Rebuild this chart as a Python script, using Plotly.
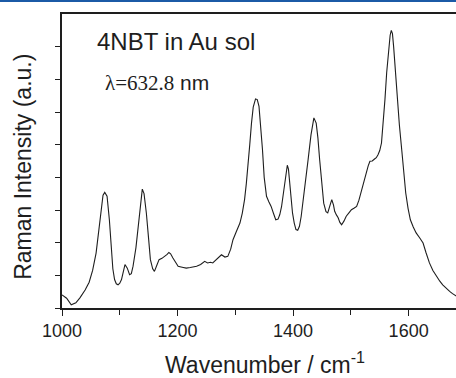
import plotly.graph_objects as go

# Spectrum (wavenumber in cm^-1, intensity in arbitrary units)
wavenumber = [1000, 1002, 1008, 1016, 1024, 1031, 1040, 1047, 1053, 1059, 1064, 1068, 1071, 1074,
              1078, 1082, 1085, 1088, 1091, 1094, 1097, 1100, 1103, 1106, 1109, 1113, 1117, 1120,
              1123, 1128, 1132, 1136, 1139, 1142, 1146, 1150, 1153, 1157, 1160, 1164, 1168, 1173,
              1178, 1182, 1185, 1188, 1192, 1197, 1201, 1208, 1215, 1222, 1228, 1233, 1240, 1247,
              1252, 1257, 1261, 1268, 1276, 1282, 1287, 1292, 1296, 1302, 1308, 1312, 1316, 1319,
              1322, 1325, 1328, 1331, 1335, 1338, 1341, 1344, 1347, 1350, 1354, 1358, 1362, 1366,
              1370, 1374, 1377, 1380, 1383, 1387, 1390, 1392, 1394, 1396, 1399, 1402, 1405, 1408,
              1411, 1414, 1417, 1421, 1426, 1431, 1436, 1440, 1443, 1446, 1449, 1453, 1457, 1460,
              1464, 1467, 1470, 1472, 1475, 1478, 1481, 1484, 1488, 1492, 1497, 1501, 1506, 1510,
              1514, 1518, 1522, 1527, 1530, 1533, 1537, 1541, 1544, 1547, 1550, 1553, 1556, 1559,
              1562, 1565, 1568, 1570, 1572, 1574, 1577, 1580, 1584, 1588, 1592, 1595, 1599, 1603,
              1608, 1613, 1619, 1625, 1630, 1636, 1642, 1648, 1654, 1659, 1665, 1671, 1676, 1683]
intensity = [0.40, 0.38, 0.30, 0.10, 0.16, 0.31, 0.55, 0.79, 1.15, 1.68, 2.40, 3.11, 3.45, 3.54,
             3.42, 2.70, 1.79, 1.20, 0.87, 0.74, 0.71, 0.76, 0.87, 1.12, 1.33, 1.22, 1.02, 1.05,
             1.28, 1.85, 2.50, 3.25, 3.64, 3.50, 2.91, 2.10, 1.48, 1.20, 1.12, 1.30, 1.48, 1.52,
             1.58, 1.64, 1.70, 1.66, 1.53, 1.38, 1.28, 1.25, 1.22, 1.24, 1.26, 1.28, 1.33, 1.43,
             1.38, 1.40, 1.38, 1.50, 1.63, 1.56, 1.58, 1.80, 2.09, 2.35, 2.60, 2.90, 3.32, 3.80,
             4.34, 5.00, 5.66, 6.15, 6.40, 6.38, 6.17, 5.60, 4.85, 4.00, 3.42, 3.25, 3.11, 2.90,
             2.70, 2.72, 2.86, 3.10, 3.52, 4.05, 4.37, 4.25, 3.83, 3.35, 2.91, 2.60, 2.40, 2.38,
             2.50, 2.80, 3.21, 3.85, 4.54, 5.30, 5.82, 5.66, 5.20, 4.54, 3.85, 3.21, 2.95, 2.91,
             3.15, 3.32, 3.15, 2.96, 2.85, 2.76, 2.62, 2.55, 2.66, 2.81, 2.92, 3.01, 3.06, 3.11,
             3.30, 3.57, 3.85, 4.13, 4.35, 4.49, 4.50, 4.56, 4.60, 4.69, 4.82, 5.05, 5.60, 6.38,
             7.20, 7.91, 8.35, 8.50, 8.40, 8.01, 7.20, 6.38, 5.60, 4.85, 4.10, 3.52, 3.05, 2.70,
             2.48, 2.30, 2.15, 1.99, 1.70, 1.38, 1.15, 0.97, 0.82, 0.71, 0.60, 0.51, 0.44, 0.36]

x_range = [1000, 1682]
y_range = [0, 9]
x_tickvals = [1000, 1200, 1400, 1600]
x_ticktext = ["1000", "1200", "1400", "1600"]
x_minor_ticks = [1100, 1300, 1500]
y_tickvals = [0, 1, 2, 3, 4, 5, 6, 7, 8]

ink = "#1e1e1e"
plot_h = 378 - 14 - 70

fig = go.Figure()
fig.add_trace(go.Scatter(x=wavenumber, y=intensity, mode="lines",
                         line=dict(color=ink, width=1.1), showlegend=False,
                         hoverinfo="skip"))

fig.update_layout(
    width=456, height=378,
    margin=dict(l=62, r=0, t=14, b=70),
    paper_bgcolor="white", plot_bgcolor="white",
    font=dict(family="Liberation Sans, Arial, sans-serif", color=ink),
    xaxis=dict(range=x_range, showgrid=False, zeroline=False,
               tickmode="array", tickvals=x_tickvals, ticktext=x_ticktext,
               ticks="outside", ticklen=6, tickwidth=1.2, tickcolor=ink,
               minor=dict(tickmode="array", tickvals=x_minor_ticks, ticks="outside",
                          ticklen=5, tickwidth=1.2, tickcolor=ink),
               tickfont=dict(size=18, color=ink),
               showline=True, linecolor=ink, linewidth=1.5, mirror=True),
    yaxis=dict(range=y_range, showgrid=False, zeroline=False,
               tickmode="array", tickvals=y_tickvals, showticklabels=False,
               ticks="outside", ticklen=5, tickwidth=1.2, tickcolor=ink,
               showline=True, linecolor=ink, linewidth=1.5, mirror=False),
)

# blue rule across the top of the figure (drawn as an annotation box so it sits in the top margin)
fig.add_annotation(xref="paper", yref="paper", x=-62 / 394, y=1.0 + 14 / plot_h,
                   xanchor="left", yanchor="top", text="", showarrow=False,
                   width=460, height=2, borderpad=0, borderwidth=0,
                   bgcolor="#1b5aa6", font=dict(size=1))

# axis titles
fig.add_annotation(xref="paper", yref="paper", x=0.515, y=-0.13, yanchor="top",
                   text="Wavenumber / cm<sup>-1</sup>", showarrow=False,
                   font=dict(size=23, color=ink))
fig.add_annotation(xref="paper", yref="paper", x=-0.099, y=0.48, textangle=-90,
                   xanchor="center", yanchor="middle",
                   text="Raman Intensity (a.u.)", showarrow=False,
                   font=dict(size=23, color=ink))

# in-plot labels
fig.add_annotation(xref="paper", yref="paper", x=0.083, y=0.905,
                   xanchor="left", yanchor="middle",
                   text="4NBT in Au sol", showarrow=False,
                   font=dict(size=24, color=ink))
fig.add_annotation(xref="paper", yref="paper", x=0.105, y=0.765,
                   xanchor="left", yanchor="middle",
                   text="<span style='font-family:Liberation Serif, Times New Roman, serif'>λ=632.8</span> nm",
                   showarrow=False, font=dict(size=21, color=ink))

fig.write_html("out.html", config={"displayModeBar": False},
               post_script="document.body.style.margin='0';document.body.style.padding='0';")
